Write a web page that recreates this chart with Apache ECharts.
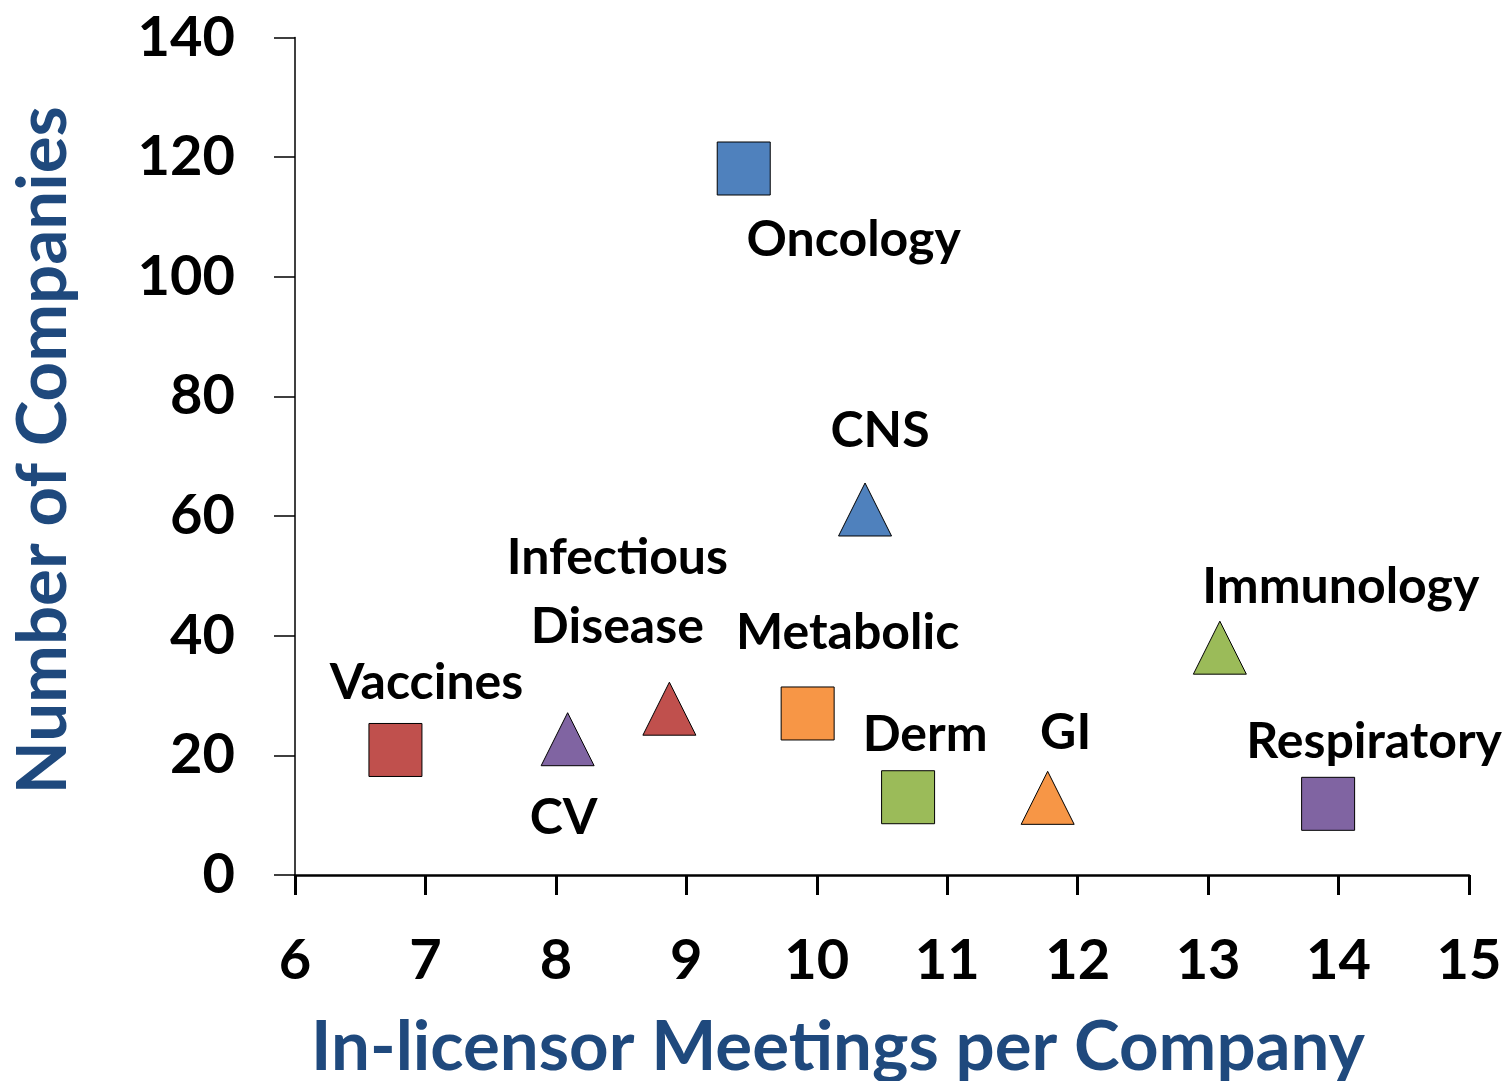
<!DOCTYPE html>
<html>
<head>
<meta charset="utf-8">
<script src="https://cdn.jsdelivr.net/npm/echarts@6/dist/echarts.min.js"></script>
<style>
html,body{margin:0;padding:0;background:#fff;}
#chart{width:1504px;height:1081px;}
</style>
</head>
<body>
<div id="chart"></div>
<script>
// ---- data ----
var categories = ['Oncology', 'CNS', 'Infectious\nDisease', 'Metabolic', 'Vaccines', 'CV', 'Derm', 'GI', 'Immunology', 'Respiratory'];
var meetingsPerCompany = [9.44, 10.37, 8.87, 9.93, 6.77, 8.09, 10.70, 11.77, 13.09, 13.92];
var numberOfCompanies = [118.1, 61.1, 27.8, 27.0, 20.9, 22.7, 13.0, 12.9, 38.0, 11.9];
var xTicks = [6, 7, 8, 9, 10, 11, 12, 13, 14, 15];
var yTicks = [0, 20, 40, 60, 80, 100, 120, 140];

// ---- styles (kept separate from data) ----
var BLUE = '#4F81BD', RED = '#C0504D', PURPLE = '#8064A2', GREEN = '#9BBB59', ORANGE = '#F79646';
var styleMap = {
  'Oncology':            {shape: 'rect',     color: BLUE,   off: [110, 71]},
  'CNS':                 {shape: 'triangle', color: BLUE,   off: [15, -79]},
  'Infectious\nDisease': {shape: 'triangle', color: RED,    off: [-52, -116]},
  'Metabolic':           {shape: 'rect',     color: ORANGE, off: [40, -81]},
  'Vaccines':            {shape: 'rect',     color: RED,    off: [31, -67]},
  'CV':                  {shape: 'triangle', color: PURPLE, off: [-4, 79]},
  'Derm':                {shape: 'rect',     color: GREEN,  off: [17, -62]},
  'GI':                  {shape: 'triangle', color: ORANGE, off: [18, -65]},
  'Immunology':          {shape: 'triangle', color: GREEN,  off: [121, -61]},
  'Respiratory':         {shape: 'rect',     color: PURPLE, off: [46, -62]}
};

var FONT = 'Lato, Carlito, Calibri, "Open Sans", sans-serif';

var points = categories.map(function (name, i) {
  var s = styleMap[name];
  return {
    name: name,
    value: [meetingsPerCompany[i], numberOfCompanies[i]],
    symbol: s.shape,
    symbolSize: 53,
    itemStyle: {color: s.color, borderColor: '#000', borderWidth: 1, opacity: 1},
    label: {
      show: true,
      position: 'inside',
      offset: s.off,
      formatter: name,
      color: '#000',
      opacity: 1,
      fontFamily: FONT,
      fontWeight: 'bold',
      fontSize: 50,
      lineHeight: 69
    }
  };
});

var chart = echarts.init(document.getElementById('chart'), null, {renderer: 'canvas'});
chart.setOption({
  animation: false,
  backgroundColor: '#fff',
  grid: {left: 295, right: 35, top: 37.5, bottom: 206, containLabel: false, outerBoundsMode: 'none'},
  xAxis: {
    type: 'value',
    min: xTicks[0],
    max: xTicks[xTicks.length - 1],
    interval: 1,
    name: 'In-licensor Meetings per Company',
    nameLocation: 'middle',
    nameGap: 138,
    nameTextStyle: {color: '#1F497D', fontFamily: FONT, fontWeight: 'bold', fontSize: 69, padding: [0, 88, 0, 0]},
    axisLine: {show: true, onZero: false, lineStyle: {color: '#000', width: 2.5}},
    axisTick: {show: true, inside: false, length: 20, lineStyle: {color: '#000', width: 3}},
    axisLabel: {color: '#000', fontFamily: FONT, fontWeight: 'bold', fontSize: 56, margin: 58},
    splitLine: {show: false}
  },
  yAxis: {
    type: 'value',
    min: yTicks[0],
    max: yTicks[yTicks.length - 1],
    interval: 20,
    name: 'Number of Companies',
    nameLocation: 'middle',
    nameGap: 217,
    nameTextStyle: {color: '#1F497D', fontFamily: FONT, fontWeight: 'bold', fontSize: 69, padding: [0, 0, 0, 12]},
    axisLine: {show: true, onZero: false, lineStyle: {color: '#000', width: 1.5}},
    axisTick: {show: true, inside: false, length: 21, lineStyle: {color: '#000', width: 1.5}},
    axisLabel: {color: '#000', fontFamily: FONT, fontWeight: 'bold', fontSize: 56, margin: 60},
    splitLine: {show: false}
  },
  series: [{
    type: 'scatter',
    itemStyle: {opacity: 1},
    emphasis: {disabled: true},
    data: points
  }]
});
</script>
</body>
</html>
